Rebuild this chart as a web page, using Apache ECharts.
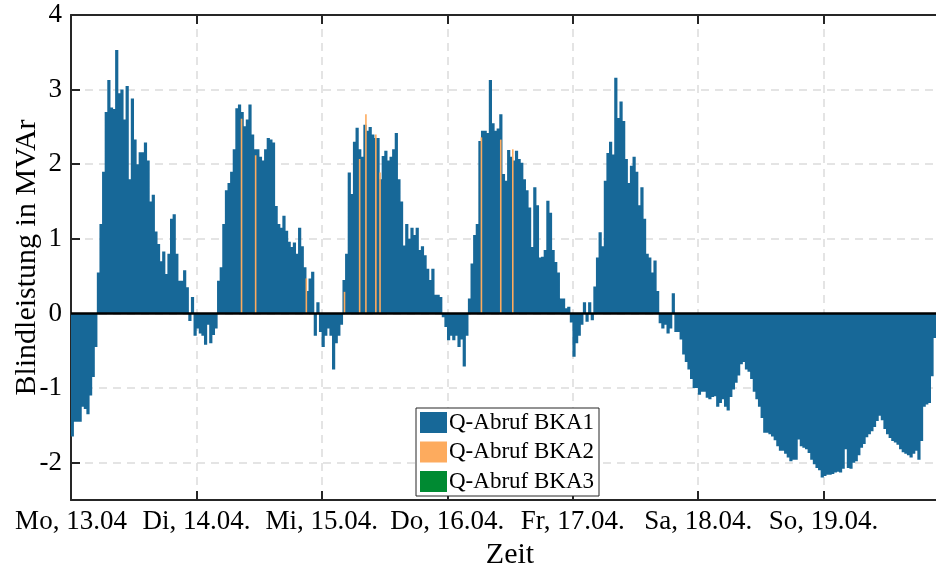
<!DOCTYPE html>
<html>
<head>
<meta charset="utf-8">
<script src="https://cdn.jsdelivr.net/npm/echarts@6/dist/echarts.min.js"></script>
<style>
    html, body { margin: 0; padding: 0; background: #fff; }
    #chart { width: 936px; height: 571px; }
</style>
</head>
<body>
<div id="chart"></div>
<script>
// Q-Abruf BKA1, Halbstundenwerte in MVAr (je Tag ab 00:00)
const mon = [-1.65, -1.45, -1.45, -1.45, -1.25, -1.28, -1.35, -1.1, -0.85, -0.45,
    0.55, 1.2, 1.9, 2.7, 3.13, 2.76, 2.74, 3.53, 2.95, 3.0,
    2.6, 3.05, 1.8, 2.88, 2.33, 2.0, 2.16, 2.16, 2.29, 2.05,
    1.5, 1.59, 1.1, 0.93, 0.7, 0.83, 0.53, 0.8, 1.27, 1.33,
    0.8, 0.44, 0.44, 0.58, 0.35, -0.1, 0.22, -0.3];
const tue = [-0.2, -0.27, -0.3, -0.42, -0.15, -0.4, -0.29, -0.2, 0.44, 0.62,
    1.2, 1.65, 1.75, 1.9, 2.2, 2.75, 2.8, 2.7, 2.51, 2.6,
    2.8, 2.4, 2.2, 2.2, 2.1, 2.05, 2.2, 2.35, 2.33, 2.29,
    1.44, 1.2, 1.15, 1.31, 1.11, 0.96, 0.89, 0.95, 0.8, 1.15,
    0.9, 0.62, 0.3, 0.47, 0.56, -0.3, 0.15, -0.25];
const wed = [-0.45, -0.3, -0.2, -0.3, -0.75, -0.4, -0.3, -0.15, 0.45, 0.8,
    1.89, 1.6, 2.3, 2.49, 2.2, 2.1, 2.53, 2.45, 2.5, 2.4,
    2.35, 2.35, 1.8, 2.11, 2.18, 2.05, 2.1, 2.2, 2.42, 1.8,
    1.5, 0.91, 1.2, 1.0, 1.15, 1.05, 1.15, 0.85, 0.9, 0.78,
    0.6, 0.45, 0.6, 0.25, 0.25, 0.22, -0.05, -0.18];
const thu = [-0.36, -0.3, -0.36, -0.3, -0.45, -0.35, -0.71, -0.3, 0.2, 0.67,
    1.05, 1.2, 2.31, 2.45, 2.45, 2.42, 3.13, 2.55, 2.45, 2.48,
    2.67, 1.87, 1.78, 2.19, 2.1, 2.05, 2.18, 2.07, 2.02, 1.8,
    1.65, 1.42, 0.89, 1.69, 1.45, 0.75, 0.76, 0.85, 1.51, 1.35,
    0.85, 0.69, 0.55, 0.2, 0.2, 0.07, 0.09, -0.12];
const fri = [-0.58, -0.4, -0.3, -0.15, 0.15, -0.11, 0.15, -0.09, 0.36, 0.75,
    1.09, 0.9, 1.78, 2.15, 2.3, 2.13, 3.16, 2.62, 2.84, 2.58,
    2.07, 1.75, 1.98, 2.1, 1.9, 1.45, 1.69, 1.27, 0.8, 0.75,
    0.55, 0.71, 0.3, -0.13, -0.2, -0.15, -0.27, -0.2, 0.27, -0.25,
    -0.25, -0.35, -0.55, -0.65, -0.75, -0.88, -1.0, -1.0];
const sat = [-1.09, -1.05, -1.05, -1.13, -1.15, -1.12, -1.11, -1.25, -1.2, -1.15,
    -1.25, -1.3, -1.12, -1.02, -0.93, -0.83, -0.68, -0.65, -0.75, -0.78,
    -0.88, -1.05, -1.15, -1.25, -1.4, -1.6, -1.6, -1.62, -1.65, -1.7,
    -1.78, -1.84, -1.84, -1.88, -1.93, -1.98, -1.96, -1.96, -1.69, -1.78,
    -1.8, -1.82, -1.87, -1.96, -2.02, -2.07, -2.1, -2.2];
const sun = [-2.18, -2.16, -2.16, -2.15, -2.13, -2.12, -2.13, -2.08, -1.82, -2.07,
    -2.08, -2.0, -1.98, -1.9, -1.8, -1.75, -1.66, -1.62, -1.58, -1.52,
    -1.44, -1.37, -1.43, -1.55, -1.62, -1.67, -1.71, -1.73, -1.76, -1.82,
    -1.86, -1.88, -1.9, -1.93, -1.88, -1.84, -1.96, -1.71, -1.25, -1.22,
    -1.2, -0.84, -0.33];

// Q-Abruf BKA2: einzelne Viertelstunden (Stunde ab Mo 00:00, Wert)
const bka2Hours = [32.8, 35.5, 45.2, 52.5, 55.4, 56.6, 58.5, 59.3, 78.7, 82.4, 84.7];
const bka2Values = [2.61, 2.12, 0.47, 0.29, 2.07, 2.67, 2.4, 1.89, 2.36, 2.33, 2.2];

// Q-Abruf BKA3: kein Abruf im Zeitraum
const bka3Hours = [];
const bka3Values = [];

const dayLabels = ['Mo, 13.04', 'Di, 14.04.', 'Mi, 15.04.', 'Do, 16.04.', 'Fr, 17.04.', 'Sa, 18.04.', 'So, 19.04.'];

const days = [mon, tue, wed, thu, fri, sat, sun];
const bka1Data = [];
days.forEach(function (vals, d) {
    vals.forEach(function (v, i) {
        bka1Data.push([d * 24 + i * 0.5 + 0.25, v]);
    });
});
const bka2Data = bka2Hours.map((h, i) => [h, bka2Values[i]]);
const bka3Data = bka3Hours.map((h, i) => [h, bka3Values[i]]);

const FONT = 'Liberation Serif';
const AXIS_COLOR = '#262626';
const GRID_COLOR = '#dcdcdc';
const BLUE = '#176898';

const chart = echarts.init(document.getElementById('chart'), null, { renderer: 'canvas' });

chart.setOption({
    animation: false,
    backgroundColor: '#ffffff',
    textStyle: { fontFamily: FONT, color: '#000' },
    // Achsenrechteck reicht rechts etwas über das Bild hinaus (Ausschnitt)
    grid: { left: 71, top: 15, right: -13, bottom: 71, containLabel: false, outerBoundsMode: 'none' },
    legend: {
        orient: 'vertical',
        left: 416,
        top: 408,
        padding: [3, 5, 3, 4],
        itemGap: 6.5,
        itemWidth: 27,
        itemHeight: 21,
        icon: 'rect',
        backgroundColor: '#ffffff',
        borderColor: AXIS_COLOR,
        borderWidth: 1,
        textStyle: { fontFamily: FONT, fontSize: 23, lineHeight: 21, color: '#000', padding: [0, 0, 0, -3] },
        data: ['Q-Abruf BKA1', 'Q-Abruf BKA2', 'Q-Abruf BKA3']
    },
    xAxis: [{
        type: 'value',
        position: 'bottom',
        min: 0,
        max: 168,
        interval: 24,
        name: 'Zeit',
        nameLocation: 'middle',
        nameGap: 34,
        nameTextStyle: { fontFamily: FONT, fontSize: 30, color: '#000' },
        axisLine: { onZero: false, lineStyle: { color: AXIS_COLOR, width: 2 } },
        axisTick: { inside: true, length: 9, lineStyle: { color: AXIS_COLOR, width: 2 } },
        axisLabel: {
            fontFamily: FONT, fontSize: 27, color: '#000', margin: 8,
            formatter: function (v) { return dayLabels[v / 24] || ''; }
        },
        splitLine: { show: true, lineStyle: { color: GRID_COLOR, width: 1.5, type: [8, 6] } }
    }, {
        type: 'value',
        position: 'top',
        min: 0,
        max: 168,
        interval: 24,
        axisLine: { onZero: false, lineStyle: { color: AXIS_COLOR, width: 2 } },
        axisTick: { inside: true, length: 9, lineStyle: { color: AXIS_COLOR, width: 2 } },
        axisLabel: { show: false },
        splitLine: { show: false }
    }],
    yAxis: {
        type: 'value',
        min: -2.5,
        max: 4,
        minInterval: 1,
        maxInterval: 1,
        name: 'Blindleistung in MVAr',
        nameLocation: 'middle',
        nameGap: 29,
        nameMoveOverlap: false,
        nameTextStyle: { fontFamily: FONT, fontSize: 30, color: '#000' },
        axisLine: { show: true, onZero: false, lineStyle: { color: AXIS_COLOR, width: 2 } },
        axisTick: { show: true, inside: true, length: 9, lineStyle: { color: AXIS_COLOR, width: 2 } },
        axisLabel: {
            fontFamily: FONT, fontSize: 27, color: '#000', margin: 9,
            formatter: function (v) { return Number.isInteger(v) ? String(v) : ''; }
        },
        splitLine: { show: true, lineStyle: { color: GRID_COLOR, width: 1.5, type: [8, 6] } }
    },
    series: [{
        name: 'Q-Abruf BKA1',
        type: 'bar',
        xAxisIndex: 0,
        barWidth: 3.2,
        barMinWidth: 3.2,
        // alle Balken in einem Pfad fuellen -> keine Haarlinien zwischen Nachbarn
        large: true,
        largeThreshold: 50,
        itemStyle: { color: BLUE },
        data: bka1Data,
        markLine: {
            silent: true,
            symbol: 'none',
            label: { show: false },
            lineStyle: { color: '#000', width: 2.5, type: 'solid' },
            data: [{ yAxis: 0 }]
        }
    }, {
        name: 'Q-Abruf BKA2',
        type: 'bar',
        xAxisIndex: 1,
        barWidth: 1.6,
        itemStyle: { color: '#fdab5e' },
        data: bka2Data,
        z: 3
    }, {
        name: 'Q-Abruf BKA3',
        type: 'bar',
        xAxisIndex: 1,
        barWidth: 1.6,
        itemStyle: { color: '#008a32' },
        data: bka3Data,
        z: 3
    }]
});
</script>
</body>
</html>
